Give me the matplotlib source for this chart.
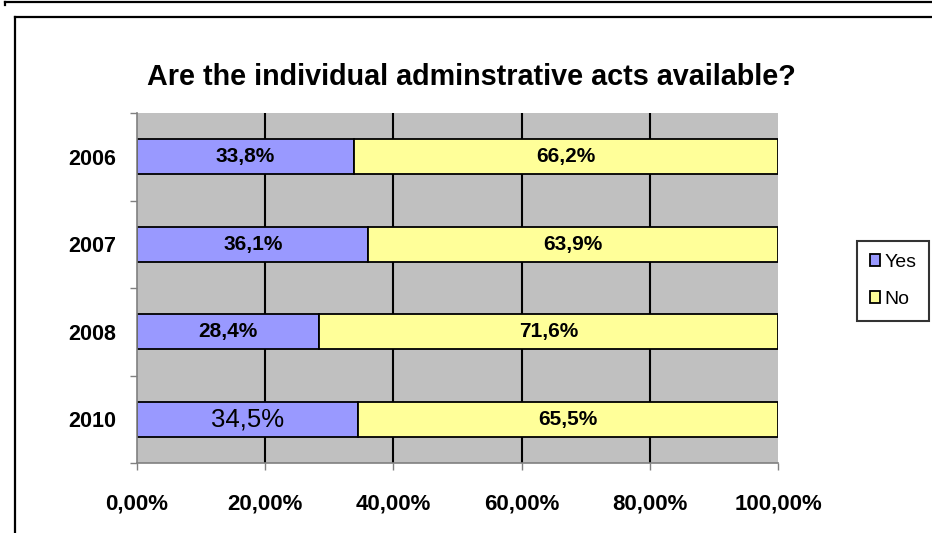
import matplotlib.pyplot as plt
from matplotlib.patches import Patch
from matplotlib.lines import Line2D
import numpy as np

plt.rcParams['font.family'] = ['Liberation Sans', 'DejaVu Sans']

years = ['2006', '2007', '2008', '2010']
yes = [33.8, 36.1, 28.4, 34.5]
no = [66.2, 63.9, 71.6, 65.5]
yes_labels = ['33,8%', '36,1%', '28,4%', '34,5%']
no_labels = ['66,2%', '63,9%', '71,6%', '65,5%']
xticks = [0, 20, 40, 60, 80, 100]
xtick_labels = ['0,00%', '20,00%', '40,00%', '60,00%', '80,00%', '100,00%']

W, H = 932, 533
fig = plt.figure(figsize=(W / 100, H / 100), dpi=100)

def fx(px):
    return px / W

def fy(py):
    return 1 - py / H

# outer frame pieces (chart object borders)
fig.add_artist(Line2D([fx(5), fx(932)], [fy(2), fy(2)], color='black', lw=1.6))
fig.add_artist(Line2D([fx(5), fx(5)], [fy(2), fy(5)], color='black', lw=1.6))
fig.add_artist(Line2D([fx(15), fx(932)], [fy(17), fy(17)], color='black', lw=1.6))
fig.add_artist(Line2D([fx(15), fx(15)], [fy(17), fy(533)], color='black', lw=1.6))

ax = fig.add_axes([fx(137), fy(463), fx(778) - fx(137), fy(113) - fy(463)])
ax.set_facecolor('#C0C0C0')

y = np.arange(len(years))
ax.set_xlim(0, 100)
ax.set_ylim(len(years) - 0.5, -0.5)

for g in [20, 40, 60, 80]:
    ax.axvline(g, color='black', lw=1.5, zorder=1)

ax.barh(y, yes, height=0.4, color='#9999FF', edgecolor='black', lw=1.3, zorder=2)
ax.barh(y, no, left=yes, height=0.4, color='#FFFF99', edgecolor='black', lw=1.3, zorder=2)

for i in range(len(years)):
    if years[i] == '2010':
        ax.text(yes[i] / 2, y[i], yes_labels[i], ha='center', va='center',
                fontsize=18.5, zorder=3)
    else:
        ax.text(yes[i] / 2, y[i], yes_labels[i], ha='center', va='center',
                fontsize=15, fontweight='bold', zorder=3)
    ax.text(yes[i] + no[i] / 2, y[i], no_labels[i], ha='center', va='center',
            fontsize=15, fontweight='bold', zorder=3)

for s in ['top', 'right']:
    ax.spines[s].set_visible(False)
for s in ['left', 'bottom']:
    ax.spines[s].set_color('#808080')
    ax.spines[s].set_linewidth(1.2)

ax.set_xticks(xticks)
ax.set_xticklabels(xtick_labels, fontsize=16, fontweight='bold')
ax.tick_params(axis='x', length=5, width=1, color='#808080', pad=17)

ax.set_yticks(np.arange(len(years) + 1) - 0.5)
ax.set_yticklabels([])
ax.set_yticks(y, minor=True)
ax.set_yticklabels(years, minor=True, fontsize=15.5, fontweight='bold')
ax.tick_params(axis='y', which='major', length=5, width=1, color='#808080')
ax.tick_params(axis='y', which='minor', length=0, pad=15)

fig.text(fx(471), fy(77), 'Are the individual adminstrative acts available?',
         ha='center', va='center', fontsize=20.7, fontweight='bold')

handles = [Patch(facecolor='#9999FF', edgecolor='black', lw=1.3),
           Patch(facecolor='#FFFF99', edgecolor='black', lw=1.3)]
leg = fig.legend(handles, ['Yes', 'No'], loc='center',
                 bbox_to_anchor=(fx(893), fy(281)), fontsize=14,
                 frameon=True, fancybox=False, edgecolor='black',
                 handlelength=0.55, handleheight=0.55, handletextpad=0.2,
                 labelspacing=1.05, borderpad=0.65, borderaxespad=0)
leg.get_frame().set_linewidth(1.5)

fig.savefig('out.png', dpi=100)
